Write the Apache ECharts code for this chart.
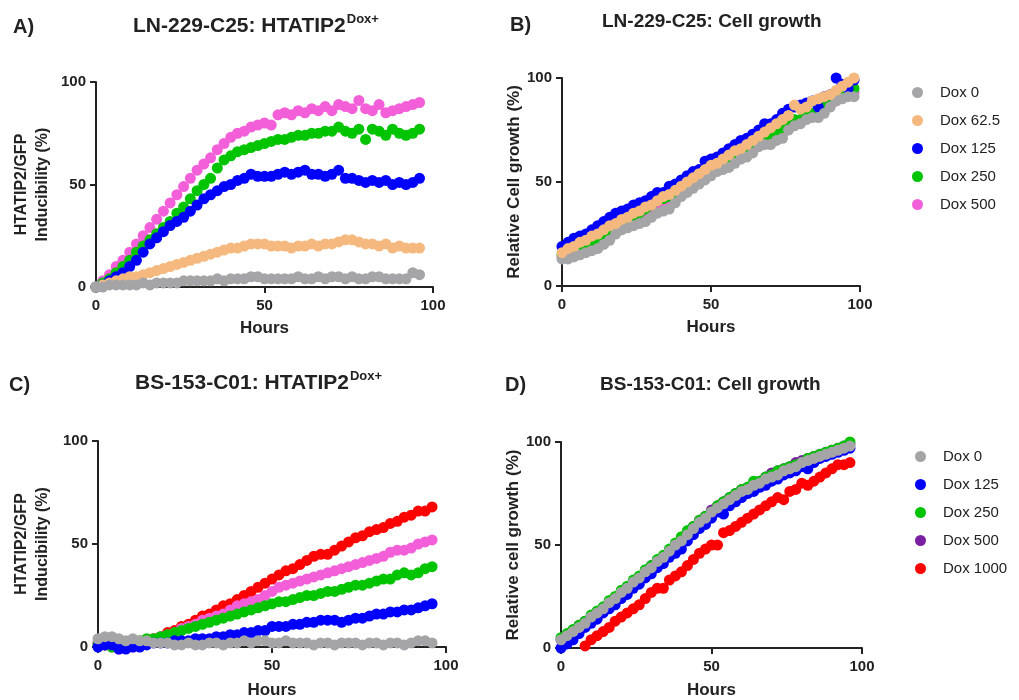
<!DOCTYPE html>
<html>
<head>
<meta charset="utf-8">
<script src="https://cdn.jsdelivr.net/npm/echarts@6/dist/echarts.min.js"></script>
<style>
  html, body { margin: 0; padding: 0; background: #fff; }
  #chart { width: 1019px; height: 700px; }
</style>
</head>
<body>
<div id="chart"></div>
<script>
// sampling times (hours)
const hoursA = [0,2,4,6,8,10,12,14,16,18,20,22,24,26,28,30,32,34,36,38,40,42,44,46,48,50,52,54,56,58,60,62,64,66,68,70,72,74,76,78,80,82,84,86,88,90,92,94,96];
const hoursB = [0,2,4,6,8,10,12,14,16,18,20,22,24,26,28,30,32,34,36,38,40,42,44,46,48,50,52,54,56,58,60,62,64,66,68,70,72,74,76,78,80,82,84,86,88,90,92,94,96,98];
const hoursC = hoursA;
const hoursD = hoursA;
const hoursD1000 = [8,10,12,14,16,18,20,22,24,26,28,30,32,34,36,38,40,42,44,46,48,50,52,54,56,58,60,62,64,66,68,70,72,74,76,78,80,82,84,86,88,90,92,94,96];

// A) LN-229-C25: HTATIP2/GFP inducibility (%)
const a_dox0   = [0,0,1,1,1,1,1,2,1,2, 2,2,2,3,3,3,3,3,4,3, 4,4,4,5,5,4,4,4,4,4, 5,4,4,5,4,5,5,4,5,4, 4,5,5,4,4,4,4,7,6];
const a_dox62  = [0,1,2,3,4,5,5,6,7,8, 9,10,11,12,13,14,15,16,17,18, 19,19,20,21,21,21,20,20,20,19, 20,20,21,20,21,21,22,23,23,22, 21,21,20,21,19,20,19,19,19];
const a_dox125 = [0,1,3,5,7,10,13,17,21,24, 27,30,32,34,37,40,43,45,47,49, 50,52,53,55,54,54,54,55,56,55, 56,57,55,55,54,55,57,53,53,52, 51,52,51,52,50,51,50,51,53];
const a_dox250 = [0,2,4,7,10,13,17,20,23,26, 29,32,36,39,43,47,50,53,58,62, 64,66,67,68,69,70,71,72,72,73, 74,74,75,75,76,76,78,76,75,77, 72,77,76,74,77,75,74,75,77];
const a_dox500 = [0,3,6,10,13,17,21,25,29,33, 37,41,45,49,53,57,60,63,67,70, 73,75,76,78,79,80,79,84,85,84, 86,85,87,86,88,86,89,88,87,91, 87,86,89,85,86,87,88,89,90];

// B) LN-229-C25: relative cell growth (%)
const b_dox0   = [13,13,14,15,16,17,18,20,22,25, 27,28,29,30,31,33,35,36,37,40, 43,45,47,49,51,53,55,56,57,59, 61,62,64,67,68,68,70,71,75,77, 78,80,81,81,83,86,89,90,91,91];
const b_dox62  = [16,18,19,21,22,24,25,27,29,30, 32,33,35,36,38,39,41,43,44,46, 48,50,52,54,56,58,59,61,63,65, 66,68,70,72,74,76,78,80,82,87, 85,86,89,90,91,92,94,96,98,100];
const b_dox125 = [19,21,23,24,25,27,29,31,33,35, 36,37,39,40,41,43,45,45,48,49, 51,53,55,56,60,61,62,64,66,68, 70,71,73,75,78,78,80,83,85,86, 87,88,89,86,91,92,100,97,95,99];
const b_dox250 = [15,16,17,19,20,21,23,25,27,29, 31,32,34,35,37,39,41,42,43,45, 47,49,51,52,54,56,57,59,60,62, 64,66,67,69,71,71,73,75,78,80, 80,82,83,85,86,88,90,92,95,95];
const b_dox500 = [14,15,16,18,19,20,22,24,26,28, 30,31,33,34,36,38,39,41,42,44, 46,48,50,51,53,55,56,58,59,61, 63,64,66,68,69,70,71,73,76,78, 79,81,82,84,85,87,89,91,93,93];

// C) BS-153-C01: HTATIP2/GFP inducibility (%)
const c_dox0    = [4,5,5,4,3,4,3,3,2,2, 2,1,1,2,1,1,2,2,1,2, 2,3,2,3,3,2,2,3,2,2, 2,1,2,2,1,2,2,2,1,2, 2,1,2,2,1,2,3,3,2];
const c_dox125  = [0,1,1,-1,-1,0,0,1,2,2, 2,3,3,3,4,4,4,5,5,6, 6,7,7,8,8,10,10,10,11,11, 12,12,13,13,13,12,13,14,14,15, 16,16,17,17,18,18,19,20,21];
const c_dox250  = [1,1,0,1,2,2,3,4,4,5, 6,7,8,9,10,11,12,13,14,15, 16,17,18,19,20,21,22,22,23,24, 25,25,26,27,27,28,29,30,30,31, 32,33,33,35,36,35,36,38,39];
const c_dox500  = [2,1,0,-1,0,0,2,3,4,5, 6,7,9,10,11,13,14,15,16,18, 20,21,22,23,25,27,29,30,31,32, 33,34,35,36,37,38,39,40,41,42, 43,44,46,47,47,48,50,51,52];
const c_dox1000 = [2,1,1,0,0,1,2,3,4,5, 7,8,10,11,13,15,16,18,20,21, 23,25,27,29,31,33,35,37,38,40, 42,44,45,45,47,49,51,53,54,56, 57,58,60,61,63,64,66,66,68];

// D) BS-153-C01: relative cell growth (%)
const d_dox0    = [4,6,8,10,12,15,17,19,22,24, 27,29,32,34,37,39,42,44,47,50, 52,55,58,61,63,66,68,70,72,74, 76,77,79,80,82,83,84,86,87,88, 90,91,92,93,94,95,96,97,98];
const d_dox125  = [0,2,4,7,10,12,14,17,19,21, 24,26,29,31,34,36,39,41,44,46, 48,52,55,58,60,63,66,65,69,71, 73,75,76,78,79,81,82,84,85,86, 88,87,90,92,93,94,95,96,97];
const d_dox250  = [5,7,9,11,13,16,18,20,23,25, 28,30,33,35,38,40,43,45,48,51, 54,57,59,62,64,66,69,71,73,75, 77,78,81,81,83,84,86,87,88,89, 90,92,93,94,95,96,97,98,100];
const d_dox500  = [4,6,8,11,13,15,17,19,22,24, 27,29,32,34,36,40,42,44,47,50, 53,56,59,62,64,67,69,71,73,75, 77,78,80,81,83,85,86,87,88,90, 91,92,93,94,95,96,97,98,99];
const d_dox1000 = [1,4,6,8,10,13,15,17,19,21, 24,27,29,29,33,35,37,40,43,46, 48,50,50,56,57,59,61,63,65,67, 69,71,73,72,76,77,80,79,81,83, 85,87,89,89,90];

const legendB = ['Dox 0', 'Dox 62.5', 'Dox 125', 'Dox 250', 'Dox 500'];
const legendD = ['Dox 0', 'Dox 125', 'Dox 250', 'Dox 500', 'Dox 1000'];

const colors = {
  grey: '#a5a5a8',
  orange: '#f5b97f',
  blue: '#0000ff',
  green: '#00c400',
  pink: '#f35fd8',
  purple: '#7b1fa2',
  red: '#ff0000'
};

const FONT = "'Liberation Sans', Arial, sans-serif";
const INK = '#222';

const chart = echarts.init(document.getElementById('chart'));

function pts(hours, vals) {
  return vals.map((v, i) => [hours[i], v]);
}

function scatter(name, color, panel, hours, vals) {
  return {
    name,
    type: 'scatter',
    xAxisIndex: panel,
    yAxisIndex: panel,
    symbolSize: 11,
    clip: false,
    itemStyle: { color, opacity: 1 },
    emphasis: { disabled: true },
    data: pts(hours, vals)
  };
}

function xAxis(grid, gap) {
  return {
    type: 'value', gridIndex: grid, min: 0, max: 100, interval: 50,
    name: 'Hours', nameLocation: 'middle', nameGap: gap,
    nameTextStyle: { color: INK, fontSize: 17, fontWeight: 'bold', fontFamily: FONT },
    axisLine: { lineStyle: { color: INK, width: 2 } },
    axisTick: { length: 6, lineStyle: { color: INK, width: 2 } },
    axisLabel: { color: INK, fontSize: 15, fontWeight: 'bold', fontFamily: FONT, margin: 11 },
    splitLine: { show: false }
  };
}

function yAxis(grid, name, gap, size, lh) {
  return {
    type: 'value', gridIndex: grid, min: 0, max: 100, interval: 50,
    name, nameLocation: 'middle', nameGap: gap,
    nameTextStyle: { color: INK, fontSize: size, fontWeight: 'bold', fontFamily: FONT, lineHeight: lh },
    axisLine: { show: true, lineStyle: { color: INK, width: 2 } },
    axisTick: { show: true, length: 6, lineStyle: { color: INK, width: 2 } },
    axisLabel: { color: INK, fontSize: 15, fontWeight: 'bold', fontFamily: FONT, margin: 10 },
    splitLine: { show: false }
  };
}

const titleStyle = (size) => ({ color: INK, fontSize: size, fontWeight: 'bold', fontFamily: FONT });
const supRich = { s: { fontSize: 13, fontWeight: 'bold', fontFamily: FONT, color: INK, padding: [0, 0, 14, 1] } };

const legendText = { color: INK, fontSize: 15, fontFamily: FONT };

chart.setOption({
  backgroundColor: '#fff',
  animation: false,
  textStyle: { fontFamily: FONT },
  title: [
    { text: 'A)', left: 13, top: 17, padding: 0, textStyle: titleStyle(20) },
    { text: 'LN-229-C25: HTATIP2{s|Dox+}', left: 133, top: 13, padding: 0, textStyle: Object.assign(titleStyle(21), { rich: supRich }) },
    { text: 'B)', left: 510, top: 15, padding: 0, textStyle: titleStyle(20) },
    { text: 'LN-229-C25: Cell growth', left: 602, top: 12, padding: 0, textStyle: titleStyle(19) },
    { text: 'C)', left: 9, top: 375, padding: 0, textStyle: titleStyle(20) },
    { text: 'BS-153-C01: HTATIP2{s|Dox+}', left: 135, top: 370, padding: 0, textStyle: Object.assign(titleStyle(21), { rich: supRich }) },
    { text: 'D)', left: 505, top: 375, padding: 0, textStyle: titleStyle(20) },
    { text: 'BS-153-C01: Cell growth', left: 600, top: 375, padding: 0, textStyle: titleStyle(19) }
  ],
  legend: [
    {
      orient: 'vertical', left: 907, top: 80, icon: 'circle',
      itemWidth: 35, itemHeight: 11, itemGap: 13,
      textStyle: legendText,
      data: legendB.map(n => ({ name: n }))
    },
    {
      orient: 'vertical', left: 910, top: 444, icon: 'circle',
      itemWidth: 35, itemHeight: 11, itemGap: 13,
      textStyle: legendText,
      data: [
        { name: legendD[0], itemStyle: { color: colors.grey } },
        { name: legendD[1], itemStyle: { color: colors.blue } },
        { name: legendD[2], itemStyle: { color: colors.green } },
        { name: legendD[3], itemStyle: { color: colors.purple } },
        { name: legendD[4], itemStyle: { color: colors.red } }
      ]
    }
  ],
  grid: [
    { left: 96, top: 82, width: 337, height: 205 },
    { left: 562, top: 78, width: 298, height: 208 },
    { left: 98, top: 441, width: 348, height: 206 },
    { left: 561, top: 442, width: 301, height: 206 }
  ],
  xAxis: [xAxis(0, 33), xAxis(1, 33), xAxis(2, 35), xAxis(3, 34)],
  yAxis: [
    yAxis(0, 'HTATIP2/GFP\nInducibility (%)', 43, 16, 21),
    yAxis(1, 'Relative Cell growth (%)', 33, 17, 18),
    yAxis(2, 'HTATIP2/GFP\nInducibility (%)', 45, 16, 21),
    yAxis(3, 'Relative cell growth (%)', 37, 17, 18)
  ],
  // later series are painted on top, so the list runs from highest dose down
  series: [
    scatter('Dox 500', colors.pink, 0, hoursA, a_dox500),
    scatter('Dox 250', colors.green, 0, hoursA, a_dox250),
    scatter('Dox 125', colors.blue, 0, hoursA, a_dox125),
    scatter('Dox 62.5', colors.orange, 0, hoursA, a_dox62),
    scatter('Dox 0', colors.grey, 0, hoursA, a_dox0),

    scatter('Dox 500', colors.pink, 1, hoursB, b_dox500),
    scatter('Dox 250', colors.green, 1, hoursB, b_dox250),
    scatter('Dox 125', colors.blue, 1, hoursB, b_dox125),
    scatter('Dox 0', colors.grey, 1, hoursB, b_dox0),
    scatter('Dox 62.5', colors.orange, 1, hoursB, b_dox62),

    scatter('Dox 1000', colors.red, 2, hoursC, c_dox1000),
    scatter('Dox 500', colors.pink, 2, hoursC, c_dox500),
    scatter('Dox 250', colors.green, 2, hoursC, c_dox250),
    scatter('Dox 125', colors.blue, 2, hoursC, c_dox125),
    scatter('Dox 0', colors.grey, 2, hoursC, c_dox0),

    scatter('Dox 1000', colors.red, 3, hoursD1000, d_dox1000),
    scatter('Dox 500', colors.purple, 3, hoursD, d_dox500),
    scatter('Dox 250', colors.green, 3, hoursD, d_dox250),
    scatter('Dox 125', colors.blue, 3, hoursD, d_dox125),
    scatter('Dox 0', colors.grey, 3, hoursD, d_dox0)
  ]
});
</script>
</body>
</html>
